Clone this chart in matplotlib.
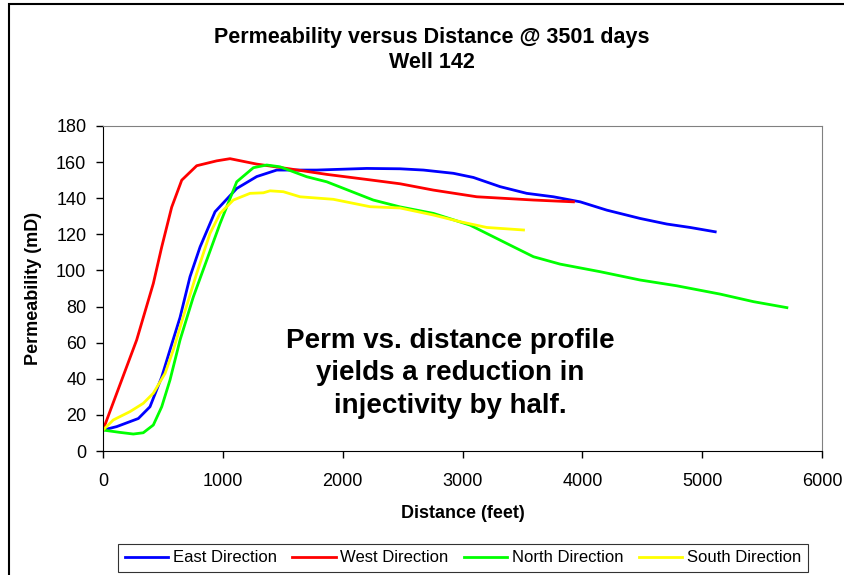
import numpy as np
import matplotlib.pyplot as plt
from matplotlib.patches import Rectangle

plt.rcParams['font.family'] = ['Liberation Sans', 'DejaVu Sans']

# 东 East
east_x = [0, 114, 295, 392, 490, 559, 643, 726, 810, 935, 1116, 1283, 1450, 1784,
          2200, 2479, 2674, 2924, 3091, 3314, 3536, 3759, 3982, 4204, 4482, 4705, 4900, 5109]
east_y = [11.6, 13.5, 18, 24.5, 41, 56, 74, 96.5, 113, 132.5, 145.4, 152, 155.6, 155.6,
          156.5, 156.3, 155.6, 153.8, 151.5, 146.4, 142.7, 140.8, 138, 133.4, 128.8, 125.7, 123.8, 121.4]

# 西 West
west_x = [0, 281, 420, 490, 573, 657, 782, 949, 1060, 1283, 1533, 1867, 2200, 2479,
          2757, 3119, 3592, 3926]
west_y = [11.6, 61.5, 92.8, 113, 135, 150, 158, 160.7, 161.9, 158.9, 156.5, 153.2, 150.4, 148,
          144.5, 140.8, 139, 138]

# 北 North
north_x = [0, 142, 253, 336, 420, 490, 559, 643, 754, 866, 977, 1116, 1255, 1366, 1477,
           1700, 1867, 2255, 2479, 2757, 3063, 3425, 3592, 3815, 4149, 4482, 4788, 5150, 5429, 5707]
north_y = [11.6, 10.3, 9.4, 10.1, 14.4, 24.5, 39.3, 61.5, 85.4, 105.8, 126, 149.1, 156.9, 158.4, 157.4,
           151.9, 149.1, 139, 135.2, 131.6, 125.1, 113.1, 107.6, 103.5, 99.3, 94.7, 91.5, 86.9, 82.7, 79.4]

# 南 South
south_x = [0, 86, 225, 336, 420, 518, 587, 670, 782, 893, 977, 1088, 1227, 1338, 1394,
           1505, 1644, 1922, 2229, 2479, 2757, 2980, 3203, 3509]
south_y = [11.6, 17.2, 21.8, 26.4, 32, 43, 56, 74.4, 98.4, 120.5, 131.6, 139, 142.7, 143, 144.1,
           143.6, 140.8, 139.4, 135.3, 134.6, 130.7, 127, 123.8, 122.4]

series = [("East Direction", east_x, east_y, "#0000ff"),
          ("West Direction", west_x, west_y, "#ff0000"),
          ("North Direction", north_x, north_y, "#00ff00"),
          ("South Direction", south_x, south_y, "#ffff00")]

W, H = 844, 575
fig = plt.figure(figsize=(W / 100, H / 100), dpi=100)
ax = fig.add_axes([103 / W, 1 - 451 / H, (822 - 103) / W, (451 - 126) / H])

for name, xs, ys, c in series:
    ax.plot(xs, ys, color=c, lw=2, label=name)

ax.set_xlim(0, 6000)
ax.set_ylim(0, 180)
ax.set_xticks(np.arange(0, 6001, 1000))
ax.set_yticks(np.arange(0, 181, 20))
ax.tick_params(direction='out', length=5, width=1, labelsize=13, colors='black')
ax.tick_params(axis='x', pad=11)
ax.tick_params(axis='y', pad=7)
for s in ['top', 'right']:
    ax.spines[s].set_color('#808080')
for s in ['left', 'bottom']:
    ax.spines[s].set_color('black')

ax.set_xlabel("Distance (feet)", fontsize=13, fontweight='bold', labelpad=11)
ax.set_ylabel("Permeability (mD)", fontsize=13, fontweight='bold', labelpad=10)

fig.text(432 / W, 1 - 37 / H, "Permeability versus Distance @ 3501 days",
         ha='center', va='center', fontsize=15.5, fontweight='bold')
fig.text(432 / W, 1 - 63 / H, "Well 142",
         ha='center', va='center', fontsize=15.5, fontweight='bold')

ax.text(2900, 43, "Perm vs. distance profile\nyields a reduction in\ninjectivity by half.",
        ha='center', va='center', fontsize=20, fontweight='bold', linespacing=1.32)

leg = fig.legend(loc='center', bbox_to_anchor=(463 / W, 1 - 558 / H), ncol=4,
                 fontsize=12, frameon=True, fancybox=False, edgecolor='black',
                 handlelength=2.6, handletextpad=0.3, columnspacing=0.9,
                 borderpad=0.4)
leg.get_frame().set_linewidth(0.8)

# 外框
fig.patches.append(Rectangle((9 / W, -0.05), 1.1, 1 - 4 / H + 0.05, transform=fig.transFigure,
                             fill=False, edgecolor='black', lw=1.5))

fig.savefig("out.png", dpi=100)
